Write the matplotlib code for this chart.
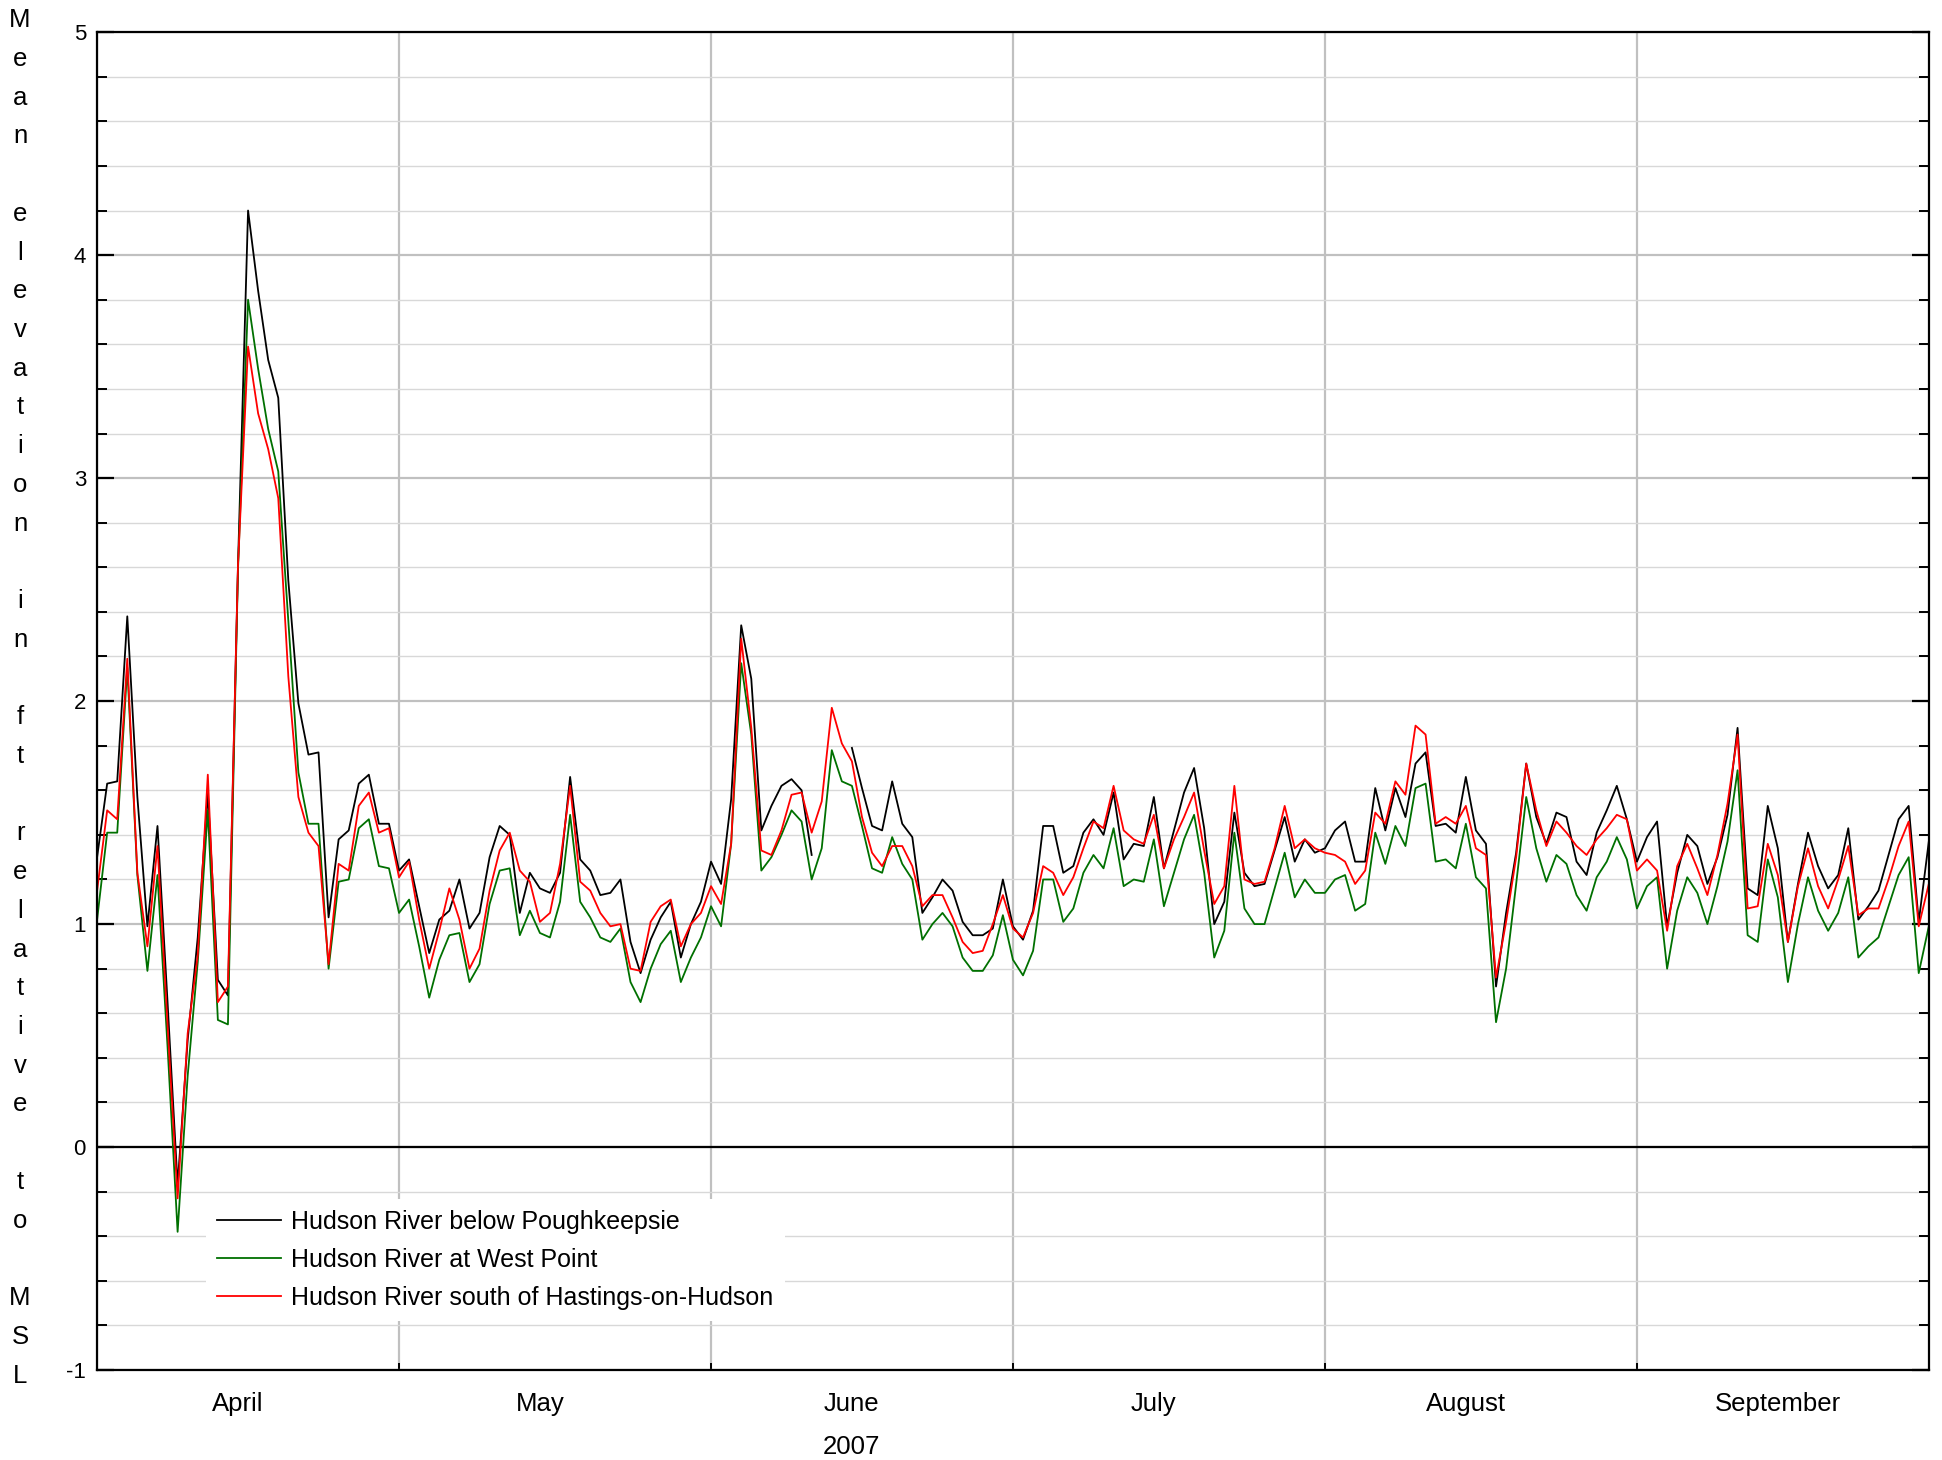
import numpy as np
import pandas as pd
import matplotlib
matplotlib.use("Agg")
import matplotlib.pyplot as plt
from matplotlib.ticker import MultipleLocator

plt.rcParams['font.family'] = ['Liberation Sans', 'DejaVu Sans']
plt.rcParams['axes.unicode_minus'] = False

dates = pd.date_range('2007-04-01', '2007-09-30', freq='D')
nan = np.nan

poughkeepsie = [
    1.30, 1.63, 1.64, 2.38, 1.57, 0.99, 1.44, 0.65, -0.17, 0.48,
    0.94, 1.59, 0.75, 0.68, 2.61, 4.20, 3.84, 3.53, 3.36, 2.54,
    1.99, 1.76, 1.77, 1.03, 1.38, 1.42, 1.63, 1.67, 1.45, 1.45,
    1.24, 1.29, 1.08, 0.87, 1.02, 1.06, 1.20, 0.98, 1.05, 1.30,
    1.44, 1.40, 1.05, 1.23, 1.16, 1.14, 1.23, 1.66, 1.29, 1.24,
    1.13, 1.14, 1.20, 0.92, 0.78, 0.93, 1.03, 1.10, 0.85, 1.00,
    1.10, 1.28, 1.18, 1.56, 2.34, 2.10, 1.42, 1.53, 1.62, 1.65,
    1.60, 1.31, nan, nan, nan, 1.79, 1.61, 1.44, 1.42, 1.64,
    1.45, 1.39, 1.05, 1.12, 1.20, 1.15, 1.01, 0.95, 0.95, 0.98,
    1.20, 0.99, 0.93, 1.06, 1.44, 1.44, 1.23, 1.26, 1.41, 1.47,
    1.40, 1.59, 1.29, 1.36, 1.35, 1.57, 1.25, 1.42, 1.59, 1.70,
    1.43, 1.00, 1.10, 1.50, 1.23, 1.17, 1.18, 1.33, 1.48, 1.28,
    1.38, 1.32, 1.34, 1.42, 1.46, 1.28, 1.28, 1.61, 1.42, 1.61,
    1.48, 1.72, 1.77, 1.44, 1.45, 1.41, 1.66, 1.42, 1.36, 0.72,
    1.05, 1.32, 1.72, 1.48, 1.36, 1.50, 1.48, 1.28, 1.22, 1.41,
    1.51, 1.62, 1.47, 1.28, 1.39, 1.46, 0.99, 1.23, 1.40, 1.35,
    1.18, 1.30, 1.49, 1.88, 1.16, 1.13, 1.53, 1.34, 0.92, 1.18,
    1.41, 1.26, 1.16, 1.22, 1.43, 1.02, 1.08, 1.15, 1.31, 1.47,
    1.53, 1.01, 1.37,
]

west_point = [
    1.02, 1.41, 1.41, 2.15, 1.22, 0.79, 1.22, 0.45, -0.38, 0.32,
    0.83, 1.51, 0.57, 0.55, 2.59, 3.80, 3.49, 3.22, 3.03, 2.36,
    1.68, 1.45, 1.45, 0.80, 1.19, 1.20, 1.43, 1.47, 1.26, 1.25,
    1.05, 1.11, 0.90, 0.67, 0.84, 0.95, 0.96, 0.74, 0.82, 1.09,
    1.24, 1.25, 0.95, 1.06, 0.96, 0.94, 1.10, 1.49, 1.10, 1.03,
    0.94, 0.92, 0.98, 0.74, 0.65, 0.80, 0.91, 0.97, 0.74, 0.85,
    0.94, 1.08, 0.99, 1.36, 2.17, 1.85, 1.24, 1.30, 1.40, 1.51,
    1.46, 1.20, 1.34, 1.78, 1.64, 1.62, 1.44, 1.25, 1.23, 1.39,
    1.27, 1.20, 0.93, 1.00, 1.05, 0.99, 0.85, 0.79, 0.79, 0.86,
    1.04, 0.84, 0.77, 0.88, 1.20, 1.20, 1.01, 1.07, 1.23, 1.31,
    1.25, 1.43, 1.17, 1.20, 1.19, 1.38, 1.08, 1.23, 1.38, 1.49,
    1.23, 0.85, 0.97, 1.41, 1.07, 1.00, 1.00, 1.16, 1.32, 1.12,
    1.20, 1.14, 1.14, 1.20, 1.22, 1.06, 1.09, 1.41, 1.27, 1.44,
    1.35, 1.61, 1.63, 1.28, 1.29, 1.25, 1.45, 1.21, 1.16, 0.56,
    0.80, 1.18, 1.57, 1.34, 1.19, 1.31, 1.27, 1.13, 1.06, 1.21,
    1.28, 1.39, 1.29, 1.07, 1.17, 1.21, 0.80, 1.06, 1.21, 1.14,
    1.00, 1.17, 1.37, 1.69, 0.95, 0.92, 1.29, 1.12, 0.74, 1.00,
    1.21, 1.06, 0.97, 1.05, 1.21, 0.85, 0.90, 0.94, 1.08, 1.22,
    1.30, 0.78, 0.99,
]

hastings = [
    1.15, 1.51, 1.47, 2.19, 1.23, 0.90, 1.35, 0.55, -0.23, 0.51,
    0.86, 1.67, 0.65, 0.72, 2.61, 3.59, 3.29, 3.13, 2.91, 2.11,
    1.57, 1.41, 1.35, 0.82, 1.27, 1.24, 1.53, 1.59, 1.41, 1.43,
    1.21, 1.28, 1.02, 0.80, 0.97, 1.16, 1.02, 0.80, 0.89, 1.15,
    1.33, 1.41, 1.24, 1.19, 1.01, 1.05, 1.27, 1.62, 1.19, 1.15,
    1.05, 0.99, 1.00, 0.80, 0.79, 1.01, 1.08, 1.11, 0.90, 1.00,
    1.05, 1.17, 1.09, 1.36, 2.28, 1.88, 1.33, 1.31, 1.42, 1.58,
    1.59, 1.41, 1.55, 1.97, 1.81, 1.73, 1.48, 1.32, 1.26, 1.35,
    1.35, 1.26, 1.08, 1.13, 1.13, 1.03, 0.92, 0.87, 0.88, 1.00,
    1.13, 0.98, 0.94, 1.05, 1.26, 1.23, 1.13, 1.21, 1.34, 1.46,
    1.43, 1.62, 1.42, 1.38, 1.36, 1.49, 1.25, 1.38, 1.48, 1.59,
    1.33, 1.09, 1.17, 1.62, 1.20, 1.18, 1.19, 1.34, 1.53, 1.34,
    1.38, 1.34, 1.32, 1.31, 1.28, 1.18, 1.24, 1.50, 1.45, 1.64,
    1.58, 1.89, 1.85, 1.45, 1.48, 1.45, 1.53, 1.34, 1.31, 0.76,
    1.01, 1.30, 1.72, 1.51, 1.35, 1.46, 1.41, 1.35, 1.31, 1.38,
    1.43, 1.49, 1.47, 1.24, 1.29, 1.24, 0.97, 1.26, 1.36, 1.25,
    1.13, 1.31, 1.54, 1.85, 1.07, 1.08, 1.36, 1.22, 0.92, 1.17,
    1.34, 1.17, 1.07, 1.20, 1.35, 1.04, 1.07, 1.07, 1.20, 1.35,
    1.46, 0.99, 1.18,
]

series_labels = ['Hudson River below Poughkeepsie',
                 'Hudson River at West Point',
                 'Hudson River south of Hastings-on-Hudson']
series_colors = ['#000000', '#007000', '#ff0000']
month_labels = ['April', 'May', 'June', 'July', 'August', 'September']
year_label = '2007'
ylabel_text = 'Mean elevation in ft relative to MSL'

fig = plt.figure(figsize=(19.42, 14.60), dpi=100)
ax = fig.add_axes([0.0500, 0.0616, 0.9432, 0.9164])

for vals, lab, col in zip([poughkeepsie, west_point, hastings], series_labels, series_colors):
    ax.plot(dates, vals, color=col, lw=1.3, label=lab, zorder=3)

ax.set_xlim(dates[0], dates[-1])
ax.set_ylim(-1, 5)

# y axis ticks / grid
ax.yaxis.set_major_locator(MultipleLocator(1))
ax.yaxis.set_minor_locator(MultipleLocator(0.2))
ax.grid(which='major', axis='y', color='#c0c0c0', lw=1.6, zorder=0)
ax.grid(which='minor', axis='y', color='#d8d8d8', lw=1.0, zorder=0)
ax.axhline(0, color='black', lw=1.6, zorder=2)

# x axis: month starts as major ticks (grid), labels at the 15th
month_starts = pd.date_range('2007-04-01', '2007-09-01', freq='MS')
mid_months = month_starts + pd.Timedelta(days=14)
ax.set_xticks(month_starts)
ax.set_xticklabels([''] * len(month_starts))
ax.set_xticks(mid_months, minor=True)
ax.set_xticklabels(month_labels, minor=True)
ax.grid(which='major', axis='x', color='#c0c0c0', lw=1.6, zorder=0)

ax.tick_params(axis='y', which='major', direction='in', length=12, width=1.6,
               left=True, right=True, labelsize=16, pad=8)
ax.tick_params(axis='y', which='minor', direction='in', length=7.5, width=1.4,
               left=True, right=True)
ax.tick_params(axis='x', which='major', direction='in', length=5, width=1.4,
               bottom=True, top=False)
ax.tick_params(axis='x', which='minor', length=0, labelsize=18.5, pad=16)

for s in ax.spines.values():
    s.set_color('black')
    s.set_linewidth(1.6)
    s.set_zorder(4)

# year label under the June label
ax.text(pd.Timestamp('2007-06-15'), -0.0575, year_label, transform=ax.get_xaxis_transform(),
        ha='center', va='center', fontsize=18.5)

# stacked vertical y label
fig.text(0.0103, 0.522, '\n'.join(list(ylabel_text)), ha='center', va='center',
         multialignment='center', fontsize=18.5, linespacing=1.775)

leg = ax.legend(loc='upper left', bbox_to_anchor=(0.0595, 0.128), borderaxespad=0,
                fontsize=18, handlelength=2.56, handletextpad=0.4, labelspacing=0.55,
                borderpad=0.45, frameon=True, fancybox=False, framealpha=1.0)
leg.get_frame().set_edgecolor('none')
leg.get_frame().set_facecolor('white')
leg.set_zorder(5)
for line in leg.get_lines():
    line.set_linewidth(1.3)

fig.savefig('out.png', dpi=100)
